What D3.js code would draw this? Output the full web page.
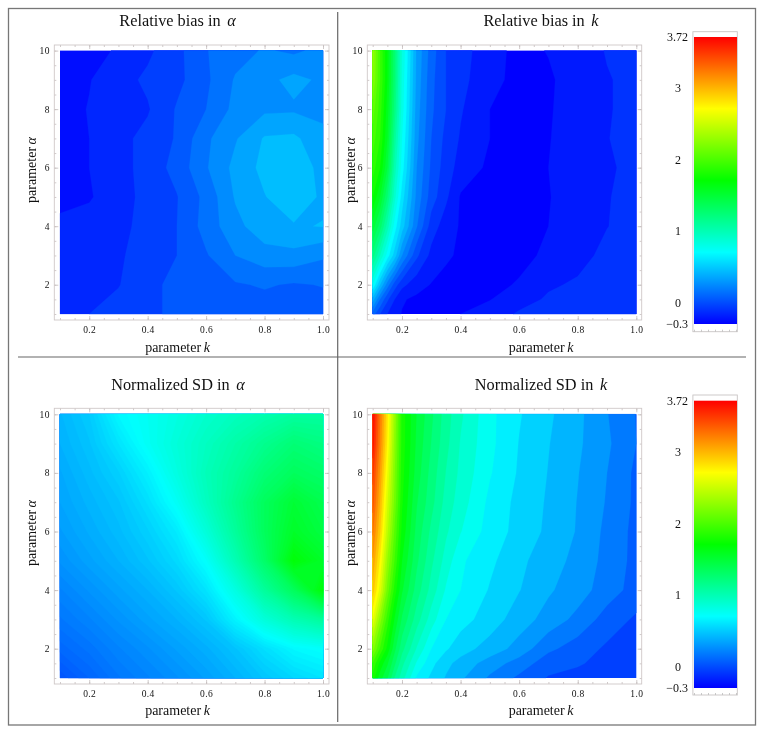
<!DOCTYPE html>
<html><head><meta charset="utf-8">
<script src="https://cdn.jsdelivr.net/npm/d3@7"></script>
<style>
html,body{margin:0;padding:0;background:#fff}
svg{display:block;filter:blur(0.4px)}
text{font-family:"Liberation Serif",serif;fill:#111}
</style></head><body><svg id="c" width="764" height="733"></svg>
<script>
const colorDomain = [-0.3, 3.72];
const colorTicks = [-0.3, 0, 1, 2, 3, 3.72];
const colorTickLabels = ["\u22120.3", "0", "1", "2", "3", "3.72"];
const kMajor = [0.2, 0.4, 0.6, 0.8, 1.0];
const alphaMajor = [2, 4, 6, 8, 10];

const alphaRows10 = [10, 9, 8, 7, 6, 5, 4, 3, 2, 1];
const alphaRows11 = [10, 9, 8, 7, 6, 5, 4, 3, 2, 1.5, 1];
const kCols10 = [0.1, 0.2, 0.3, 0.4, 0.5, 0.6, 0.7, 0.8, 0.9, 1.0];
const kCols15 = [0.1, 0.125, 0.15, 0.175, 0.2, 0.25, 0.3, 0.35, 0.4, 0.5, 0.6, 0.7, 0.8, 0.9, 1.0];

const biasAlpha = [
  [-.27,-.23,-.19,-.12,-.03,.095,.16,.21,.18,.23],
  [-.25,-.205,-.14,-.08,-.03,.08,.21,.27,.33,.28],
  [-.24,-.195,-.15,-.11,.01,.1,.23,.28,.285,.27],
  [-.24,-.2,-.13,-.07,.01,.18,.29,.41,.42,.33],
  [-.25,-.2,-.14,-.06,.035,.19,.33,.43,.46,.37],
  [-.225,-.21,-.14,-.07,-.005,.13,.31,.395,.47,.38],
  [-.18,-.16,-.125,-.07,0,.14,.27,.36,.39,.405],
  [-.17,-.15,-.115,-.05,0,.09,.2,.26,.27,.215],
  [-.16,-.135,-.105,-.03,.03,.06,.09,.11,.09,.105],
  [-.13,-.1,-.06,-.02,.02,.04,.05,.05,.04,.05]
];
const biasK = [
  [2.3,1.95,1.65,1.25,.85,.33,.1,-.05,-.11,-.21,-.28,-.245,-.19,-.145,-.13],
  [2.25,1.95,1.65,1.25,.82,.32,.08,-.05,-.12,-.22,-.28,-.265,-.2,-.155,-.13],
  [2.1,1.9,1.6,1.2,.8,.3,.07,-.05,-.14,-.25,-.28,-.26,-.2,-.155,-.13],
  [2.0,1.85,1.55,1.1,.75,.28,.05,-.08,-.16,-.25,-.28,-.255,-.2,-.152,-.13],
  [1.9,1.75,1.45,1.0,.7,.25,.03,-.1,-.19,-.27,-.29,-.25,-.19,-.16,-.13],
  [1.75,1.55,1.25,.88,.6,.22,0,-.13,-.26,-.28,-.29,-.255,-.2,-.155,-.12],
  [1.5,1.3,1.0,.7,.5,.16,-.1,-.2,-.26,-.28,-.28,-.25,-.19,-.152,-.12],
  [1.2,.95,.7,.5,.25,-.03,-.18,-.24,-.26,-.28,-.265,-.24,-.175,-.13,-.11],
  [.75,.45,.2,0,-.12,-.21,-.255,-.27,-.28,-.265,-.245,-.16,-.14,-.12,-.11],
  [.4,.15,-.03,-.15,-.24,-.27,-.28,-.28,-.275,-.255,-.18,-.14,-.13,-.12,-.11],
  [.1,-.05,-.15,-.21,-.255,-.27,-.27,-.265,-.25,-.19,-.14,-.13,-.12,-.11,-.11]
];
const sdAlpha = [
  [.42,.5,.68,.75,.82,.9,.96,1.02,1.08,1.08],
  [.40,.47,.6,.74,.85,.95,1.05,1.15,1.25,1.2],
  [.37,.44,.52,.65,.82,.98,1.1,1.25,1.35,1.3],
  [.35,.41,.47,.58,.74,.95,1.15,1.35,1.5,1.4],
  [.32,.38,.44,.52,.63,.85,1.1,1.35,1.55,1.45],
  [.28,.34,.4,.47,.56,.72,1.0,1.3,1.68,1.55],
  [.22,.28,.34,.4,.48,.6,.82,1.1,1.35,1.68],
  [.17,.22,.28,.34,.4,.48,.66,.85,1.0,1.1],
  [.11,.16,.22,.27,.33,.39,.47,.58,.68,.72],
  [.03,.1,.17,.22,.27,.33,.4,.48,.55,.6]
];
const sdK = [
  [3.7,3.25,2.8,2.3,1.8,1.5,1.3,1.1,.95,.73,.595,.49,.385,.245,.12],
  [3.65,3.2,2.75,2.25,1.8,1.48,1.27,1.08,.92,.73,.58,.475,.375,.26,.125],
  [3.5,3.1,2.65,2.2,1.78,1.45,1.23,1.04,.9,.71,.57,.465,.36,.24,.10],
  [3.4,3.0,2.55,2.15,1.75,1.4,1.2,1.0,.87,.67,.55,.455,.35,.23,.10],
  [3.25,2.9,2.45,2.05,1.7,1.35,1.13,.95,.82,.65,.545,.445,.345,.21,.09],
  [3.1,2.75,2.3,1.95,1.62,1.3,1.07,.88,.72,.61,.5,.40,.325,.2,.09],
  [2.95,2.6,2.15,1.8,1.52,1.22,1.0,.8,.7,.575,.475,.37,.295,.18,.08],
  [2.65,2.25,1.9,1.6,1.37,1.1,.87,.7,.63,.53,.41,.31,.205,.075,-.01],
  [2.25,1.95,1.7,1.42,1.2,.92,.7,.6,.52,.42,.31,.15,.07,-.01,-.05],
  [1.95,1.7,1.52,1.3,1.08,.8,.62,.5,.43,.3,.19,.06,.02,-.02,-.05],
  [1.8,1.55,1.4,1.15,.98,.68,.56,.46,.375,.22,.1,.0,-.02,-.03,-.05]
];

const svg = d3.select("#c");
const hueScale = d3.scaleLinear().domain(colorDomain).range([240, 0]).clamp(true);
const color = v => d3.hsl(hueScale(v), 1, 0.5).formatHex();

const ALPHA = "\u03b1";
const panels = [
  {title:"Relative bias in ", sym:ALPHA, z:biasAlpha, rows:alphaRows10, cols:kCols10, t0:-0.2, step:0.1,
   x0:60, x1:323, y0:50.6, y1:314, fx0:54.3, fx1:329, fy0:45, fy1:320, tx:177.5, tb:26, xl:177.5, xb:352, yx:36, yc:170},
  {title:"Relative bias in ", sym:"k", z:biasK, rows:alphaRows11, cols:kCols15, t0:-0.25, step:0.1,
   x0:372.7, x1:636.3, y0:50.6, y1:314, fx0:367.3, fx1:641.7, fy0:45, fy1:320, tx:541, tb:26, xl:541, xb:352, yx:355, yc:170},
  {title:"Normalized SD in ", sym:ALPHA, z:sdAlpha, rows:alphaRows10, cols:kCols10, t0:0, step:0.025,
   x0:60, x1:323, y0:414.3, y1:678, fx0:54.3, fx1:329, fy0:408.3, fy1:684, tx:178, tb:390, xl:177.5, xb:715, yx:36, yc:533},
  {title:"Normalized SD in ", sym:"k", z:sdK, rows:alphaRows11, cols:kCols15, t0:0.01, step:0.115,
   x0:372.7, x1:636.3, y0:414.3, y1:678, fx0:367.3, fx1:641.7, fy0:408.3, fy1:684, tx:541, tb:390, xl:541, xb:715, yx:355, yc:533}
];

svg.append("rect").attr("x",8.5).attr("y",8.5).attr("width",747).attr("height",716.5)
  .attr("fill","none").attr("stroke","#777").attr("stroke-width",1.3);
svg.append("line").attr("x1",337.7).attr("x2",337.7).attr("y1",12).attr("y2",722).attr("stroke","#666").attr("stroke-width",1.2);
svg.append("line").attr("x1",18).attr("x2",746).attr("y1",357).attr("y2",357).attr("stroke","#666").attr("stroke-width",1.2);

function frameAxes(g, p, x, y){
  const kMinor = d3.range(0.1, 1.0001, 0.05);
  const aMinor = d3.range(1, 10.001, 0.5);
  const tcol = "#c4bcbc";
  const mk = (axis, tx, ty, labels) => {
    const a = g.append("g").attr("transform",`translate(${tx},${ty})`).call(axis);
    a.select(".domain").remove();
    a.selectAll("line").attr("stroke",tcol).attr("stroke-width",0.8);
    if(labels){
      a.selectAll("text").attr("font-size",9.5).attr("font-family","Liberation Serif").attr("fill","#333").attr("letter-spacing",0.4);
    } else a.selectAll("text").remove();
  };
  mk(d3.axisBottom(x).tickValues(kMinor).tickSize(-2).tickFormat(""), 0, p.fy1, false);
  mk(d3.axisTop(x).tickValues(kMinor).tickSize(-2).tickFormat(""), 0, p.fy0, false);
  mk(d3.axisLeft(y).tickValues(aMinor).tickSize(-2).tickFormat(""), p.fx0, 0, false);
  mk(d3.axisRight(y).tickValues(aMinor).tickSize(-2).tickFormat(""), p.fx1, 0, false);
  mk(d3.axisBottom(x).tickValues(kMajor).tickSize(-4).tickPadding(6).tickFormat(d3.format(".1f")), 0, p.fy1, true);
  mk(d3.axisLeft(y).tickValues(alphaMajor).tickSize(-4).tickPadding(4.5).tickFormat(d3.format("d")), p.fx0, 0, true);
  mk(d3.axisTop(x).tickValues(kMajor).tickSize(-4).tickFormat(""), 0, p.fy0, false);
  mk(d3.axisRight(y).tickValues(alphaMajor).tickSize(-4).tickFormat(""), p.fx1, 0, false);
  g.append("rect").attr("x",p.fx0).attr("y",p.fy0).attr("width",p.fx1-p.fx0).attr("height",p.fy1-p.fy0)
    .attr("fill","none").attr("stroke","#cfc8c8").attr("stroke-width",0.9);
}

function italicSym(text, s){
  text.append("tspan").attr("font-style","italic").attr("dx",2.5).text(s);
}

panels.forEach(p => {
  const g = svg.append("g");
  const x = d3.scaleLinear().domain([0.1,1]).range([p.x0,p.x1]);
  const y = d3.scaleLinear().domain([1,10]).range([p.y1,p.y0]);
  const n = p.cols.length, m = p.rows.length;
  const colAt = d3.scaleLinear().domain(d3.range(n)).range(p.cols).clamp(true);
  const rowAt = d3.scaleLinear().domain(d3.range(m)).range(p.rows).clamp(true);
  const project = d3.geoTransform({point(px,py){
    this.stream.point(x(colAt(px-0.5)), y(rowAt(py-0.5)));
  }});
  const path = d3.geoPath(project);
  const values = p.z.flat();
  const hi = d3.max(values);
  const levels = d3.range(p.t0, hi, p.step);
  g.append("rect").attr("x",p.x0).attr("y",p.y0).attr("width",p.x1-p.x0).attr("height",p.y1-p.y0)
    .attr("fill",color(p.t0-p.step/2));
  const contours = d3.contours().size([n,m]).thresholds(levels).smooth(true)(values);
  g.selectAll("path.band").data(contours).join("path").attr("class","band")
    .attr("d",path).attr("fill",d=>color(d.value+p.step/2))
    .attr("stroke",d=>color(d.value+p.step/2)).attr("stroke-width",0.25);
  frameAxes(g,p,x,y);
  const t = g.append("text").attr("x",p.tx).attr("y",p.tb).attr("text-anchor","middle")
    .attr("font-size",16.3).text(p.title);
  italicSym(t,p.sym);
  const xl = g.append("text").attr("x",p.xl).attr("y",p.xb).attr("text-anchor","middle")
    .attr("font-size",14).text("parameter");
  italicSym(xl,"k");
  const yl = g.append("text").attr("transform",`translate(${p.yx},${p.yc}) rotate(-90)`)
    .attr("text-anchor","middle").attr("font-size",14).text("parameter");
  italicSym(yl,ALPHA);
});

const defs = svg.append("defs");
const grad = defs.append("linearGradient").attr("id","hue").attr("x1",0).attr("x2",0).attr("y1",1).attr("y2",0);
d3.range(0,1.0001,0.05).forEach(f=>{
  grad.append("stop").attr("offset",f).attr("stop-color",color(colorDomain[0]+f*(colorDomain[1]-colorDomain[0])));
});
[{top:37,bot:324,ft:31.7,fb:331.7},{top:400.7,bot:688,ft:395,fb:695}].forEach(b=>{
  const g = svg.append("g");
  const y = d3.scaleLinear().domain(colorDomain).range([b.bot,b.top]);
  g.append("rect").attr("x",692.9).attr("y",b.ft).attr("width",44.4).attr("height",b.fb-b.ft)
    .attr("fill","#fff").attr("stroke","#c8c4c4").attr("stroke-width",0.9);
  g.append("rect").attr("x",694).attr("y",b.top).attr("width",43).attr("height",b.bot-b.top).attr("fill","url(#hue)");
  const tickX = d3.scaleLinear().domain([0,1]).range([694,736]);
  const bt = g.append("g").attr("transform",`translate(0,${b.fb})`)
    .call(d3.axisBottom(tickX).tickValues(d3.range(0,1.001,1/6)).tickSize(-2).tickFormat(""));
  bt.select(".domain").remove();
  bt.selectAll("line").attr("stroke","#bbb").attr("stroke-width",0.8);
  g.selectAll("text.cb").data(colorTicks).join("text").attr("class","cb")
    .attr("x",(d,i)=> (i===0||i===5)?688:678).attr("y",d=>y(d)+4)
    .attr("text-anchor",(d,i)=> (i===0||i===5)?"end":"middle")
    .attr("font-size",12).attr("fill","#222")
    .text((d,i)=>colorTickLabels[i]);
});
</script></body></html>
